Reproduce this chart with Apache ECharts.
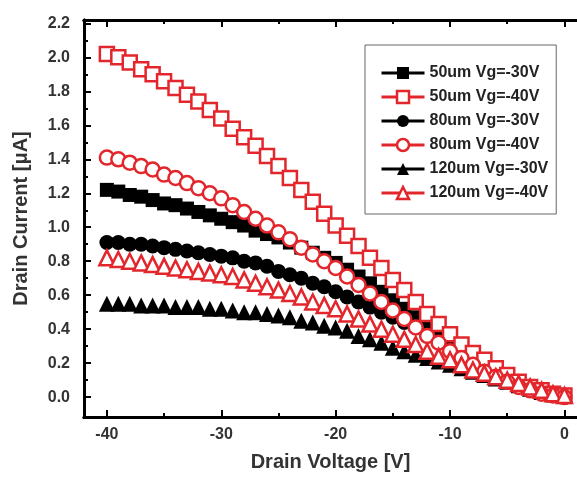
<!DOCTYPE html>
<html>
<head>
<meta charset="utf-8">
<script src="https://cdn.jsdelivr.net/npm/echarts@6/dist/echarts.min.js"></script>
<style>
  html, body { margin: 0; padding: 0; background: #fff; }
  #chart { width: 577px; height: 477px; }
</style>
</head>
<body>
<div id="chart"></div>
<script>
// drain voltage sweep (V)
var volts = [-40, -39, -38, -37, -36, -35, -34, -33, -32, -31, -30, -29, -28, -27, -26, -25, -24, -23, -22, -21,
             -20, -19, -18, -17, -16, -15, -14, -13, -12, -11, -10, -9, -8, -7, -6, -5, -4, -3, -2, -1, 0];

// drain current (uA)
var i50_30 = [1.22, 1.21, 1.19, 1.18, 1.16, 1.14, 1.13, 1.11, 1.09, 1.07, 1.05, 1.03, 1.01, 0.98, 0.96, 0.94, 0.91, 0.88, 0.85, 0.82,
              0.79, 0.75, 0.71, 0.67, 0.62, 0.57, 0.52, 0.47, 0.42, 0.37, 0.32, 0.27, 0.23, 0.19, 0.15, 0.11, 0.08, 0.05, 0.03, 0.01, 0.00];
var i50_40 = [2.02, 2.00, 1.97, 1.93, 1.90, 1.86, 1.82, 1.78, 1.74, 1.69, 1.64, 1.58, 1.53, 1.48, 1.42, 1.36, 1.29, 1.22, 1.15, 1.08,
              1.01, 0.95, 0.89, 0.82, 0.76, 0.69, 0.63, 0.56, 0.49, 0.43, 0.37, 0.31, 0.26, 0.22, 0.17, 0.13, 0.09, 0.06, 0.04, 0.02, 0.01];
var i80_30 = [0.91, 0.91, 0.90, 0.90, 0.89, 0.88, 0.87, 0.86, 0.85, 0.84, 0.83, 0.82, 0.80, 0.79, 0.77, 0.74, 0.72, 0.70, 0.67, 0.65,
              0.62, 0.59, 0.56, 0.53, 0.50, 0.47, 0.44, 0.41, 0.37, 0.33, 0.29, 0.25, 0.21, 0.17, 0.13, 0.10, 0.07, 0.04, 0.02, 0.01, 0.00];
var i80_40 = [1.41, 1.40, 1.38, 1.36, 1.34, 1.31, 1.29, 1.26, 1.23, 1.20, 1.17, 1.13, 1.09, 1.05, 1.01, 0.97, 0.93, 0.88, 0.84, 0.80,
              0.76, 0.71, 0.66, 0.61, 0.56, 0.51, 0.46, 0.41, 0.36, 0.32, 0.27, 0.23, 0.19, 0.15, 0.12, 0.09, 0.06, 0.04, 0.02, 0.01, 0.00];
var i120_30 = [0.55, 0.55, 0.55, 0.54, 0.54, 0.54, 0.53, 0.53, 0.53, 0.52, 0.52, 0.51, 0.50, 0.50, 0.49, 0.48, 0.47, 0.45, 0.44, 0.42,
               0.41, 0.39, 0.36, 0.34, 0.32, 0.29, 0.27, 0.25, 0.23, 0.21, 0.19, 0.17, 0.15, 0.13, 0.11, 0.09, 0.07, 0.05, 0.03, 0.02, 0.01];
var i120_40 = [0.82, 0.81, 0.80, 0.79, 0.78, 0.77, 0.76, 0.75, 0.74, 0.73, 0.72, 0.71, 0.69, 0.67, 0.65, 0.63, 0.61, 0.59, 0.56, 0.54,
               0.52, 0.49, 0.46, 0.43, 0.40, 0.37, 0.34, 0.31, 0.27, 0.24, 0.22, 0.19, 0.16, 0.14, 0.12, 0.10, 0.08, 0.06, 0.04, 0.02, 0.01];

var names = ['50um Vg=-30V', '50um Vg=-40V', '80um Vg=-30V', '80um Vg=-40V', '120um Vg=-30V', '120um Vg=-40V'];

// tick labels
var xMajor = [-40, -30, -20, -10, 0];
var xMinor = [-35, -25, -15, -5];
var yMajor = [0, 0.2, 0.4, 0.6, 0.8, 1.0, 1.2, 1.4, 1.6, 1.8, 2.0, 2.2];
var yMinor = [0.1, 0.3, 0.5, 0.7, 0.9, 1.1, 1.3, 1.5, 1.7, 1.9, 2.1];

var red = '#e3262b', black = '#000';
var txt = '#333';
var font = 'Liberation Sans, Arial, sans-serif';

function pairs(vals) {
    var out = [];
    for (var i = 0; i < volts.length; i++) {
        out.push([volts[i], vals[i]]);
    }
    return out;
}

function makeSeries(name, vals, symbol, filled, color, size, z) {
    return {
        name: name,
        type: 'line',
        data: pairs(vals),
        symbol: symbol,
        symbolSize: size,
        showSymbol: true,
        z: z,
        lineStyle: { color: color, opacity: 0 },
        itemStyle: filled ? { color: color } : { color: '#fff', borderColor: color, borderWidth: 2.5 },
        emphasis: { disabled: true },
        animation: false
    };
}

function xAx(pos, ticks, len, labels) {
    return {
        type: 'value', position: pos, min: -42, max: 1.1,
        axisLine: { show: true, onZero: false, lineStyle: { color: black, width: 3 } },
        axisTick: { show: true, inside: true, length: len, customValues: ticks, lineStyle: { color: black, width: 2 } },
        axisLabel: labels ? {
            show: true, customValues: xMajor, margin: 10, color: txt,
            fontSize: 16, fontWeight: 'bold', fontFamily: font
        } : { show: false },
        splitLine: { show: false }
    };
}

function yAx(ticks, len, labels) {
    return {
        type: 'value', position: 'left', min: -0.117, max: 2.22,
        axisLine: { show: true, onZero: false, lineStyle: { color: black, width: 3 } },
        axisTick: { show: true, inside: true, length: len, customValues: ticks, lineStyle: { color: black, width: 2 } },
        axisLabel: labels ? {
            show: true, customValues: yMajor, margin: 14, color: txt,
            fontSize: 16, fontWeight: 'bold', fontFamily: font,
            formatter: function (v) { return v.toFixed(1); }
        } : { show: false },
        splitLine: { show: false }
    };
}

var xBottom = xAx('bottom', xMajor, 7, true);
xBottom.name = 'Drain Voltage [V]';
xBottom.nameLocation = 'middle';
xBottom.nameGap = 35;
xBottom.nameTextStyle = { color: txt, fontSize: 20, fontWeight: 'bold', fontFamily: font };

var yLeft = yAx(yMajor, 7, true);
yLeft.name = 'Drain Current [\u03bcA]';
yLeft.nameLocation = 'middle';
yLeft.nameGap = 53;
yLeft.nameTextStyle = { color: txt, fontSize: 20, fontWeight: 'bold', fontFamily: font };

var myChart = echarts.init(document.getElementById('chart'), null, { renderer: 'canvas' });

var option = {
    animation: false,
    backgroundColor: '#fff',
    grid: { left: 84, right: 0, top: 20, bottom: 58, containLabel: false },
    xAxis: [xBottom, xAx('bottom', xMinor, 4, false), xAx('top', xMajor, 7, false), xAx('top', xMinor, 4, false)],
    yAxis: [yLeft, yAx(yMinor, 4, false)],
    legend: {
        orient: 'vertical',
        left: 365, top: 45,
        padding: [20, 8, 13, 15],
        itemWidth: 43, itemHeight: 15, itemGap: 8,
        itemStyle: { borderWidth: 2.5 },
        backgroundColor: '#fff',
        borderColor: '#666', borderWidth: 1,
        lineStyle: { width: 3, opacity: 1 },
        textStyle: { color: '#222', fontSize: 16, fontWeight: 'bold', fontFamily: font },
        data: names
    },
    series: [
        makeSeries(names[0], i50_30, 'rect', true, black, 14, 2),
        makeSeries(names[1], i50_40, 'rect', false, red, 14, 3),
        makeSeries(names[2], i80_30, 'circle', true, black, 15, 2),
        makeSeries(names[3], i80_40, 'circle', false, red, 14, 3),
        makeSeries(names[4], i120_30, 'triangle', true, black, 16, 2),
        makeSeries(names[5], i120_40, 'triangle', false, red, 15, 3)
    ]
};

myChart.setOption(option);
</script>
</body>
</html>
